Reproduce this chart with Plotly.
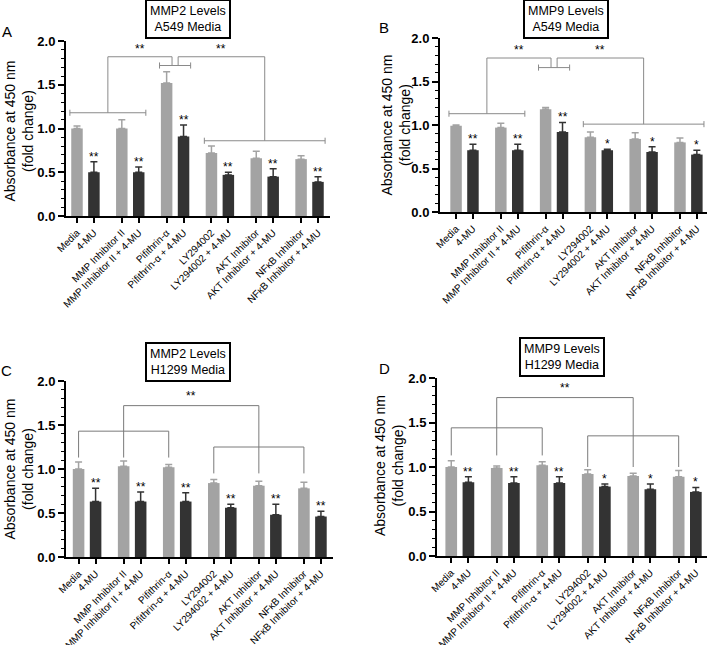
import plotly.graph_objects as go

W, H = 709, 645

categories = ["Media", "4-MU", "MMP Inhibitor II", "MMP Inhibitor II + 4-MU",
              "Pifithrin-α", "Pifithrin-α + 4-MU", "LY294002", "LY294002 + 4-MU",
              "AKT Inhibitor", "AKT Inhibitor + 4-MU", "NFκB Inhibitor", "NFκB Inhibitor + 4-MU"]

# Panel A: MMP2, A549
a_light = [1.00, 1.00, 1.52, 0.72, 0.66, 0.65]
a_light_err = [0.03, 0.10, 0.13, 0.08, 0.08, 0.04]
a_dark = [0.50, 0.50, 0.91, 0.47, 0.45, 0.39]
a_dark_err = [0.12, 0.06, 0.13, 0.03, 0.09, 0.06]
a_sig = ["**", "**", "**", "**", "**", "**"]

# Panel B: MMP9, A549
b_light = [0.99, 0.97, 1.18, 0.86, 0.84, 0.80]
b_light_err = [0.01, 0.05, 0.02, 0.06, 0.07, 0.05]
b_dark = [0.71, 0.71, 0.92, 0.71, 0.69, 0.66]
b_dark_err = [0.07, 0.07, 0.11, 0.01, 0.06, 0.05]
b_sig = ["**", "**", "**", "*", "*", "*"]

# Panel C: MMP2, H1299
c_light = [1.00, 1.03, 1.02, 0.84, 0.81, 0.78]
c_light_err = [0.08, 0.06, 0.03, 0.04, 0.05, 0.07]
c_dark = [0.63, 0.63, 0.63, 0.56, 0.48, 0.46]
c_dark_err = [0.15, 0.11, 0.10, 0.04, 0.12, 0.06]
c_sig = ["**", "**", "**", "**", "**", "**"]

# Panel D: MMP9, H1299
d_light = [1.00, 0.99, 1.02, 0.92, 0.90, 0.89]
d_light_err = [0.07, 0.02, 0.04, 0.05, 0.03, 0.07]
d_dark = [0.83, 0.82, 0.82, 0.78, 0.75, 0.72]
d_dark_err = [0.06, 0.07, 0.07, 0.03, 0.06, 0.05]
d_sig = ["**", "**", "**", "*", "*", "*"]

y_ticks = [0.0, 0.5, 1.0, 1.5, 2.0]
y_ticktext = ["<b>0.0</b>", "<b>0.5</b>", "<b>1.0</b>", "<b>1.5</b>", "<b>2.0</b>"]

LIGHT = "#a3a3a3"
DARK = "#333333"
LINE = "#8a8a8a"
FONT = "Arial, Liberation Sans, sans-serif"

GAP = 2.65
pos = [g * GAP + k for g in range(6) for k in (0, 1)]
pos_light = pos[0::2]
pos_dark = pos[1::2]


def px_x(p):
    return p / W


def px_y(p):
    return 1 - p / H


panels = [
    dict(letter="A", title="MMP2 Levels<br>A549 Media", light=a_light, le=a_light_err, dark=a_dark, de=a_dark_err,
         sig=a_sig, xd=(66, 330), yd=(41, 216), xr=(-0.65, 14.96), title_c=(188, 19.5), ylab=(18.5, 131),
         let_c=(7, 31), style="cap", br=dict(left=1.18, center=1.72, right=0.86, top=1.82), color=LINE),
    dict(letter="B", title="MMP9 Levels<br>A549 Media", light=b_light, le=b_light_err, dark=b_dark, de=b_dark_err,
         sig=b_sig, xd=(440, 707), yd=(38, 212), xr=(-0.95, 14.85), title_c=(566, 18.5), ylab=(395.5, 125),
         let_c=(384, 28), style="cap", br=dict(left=1.13, center=1.66, right=1.01, top=1.77), color=LINE),
    dict(letter="C", title="MMP2 Levels<br>H1299 Media", light=c_light, le=c_light_err, dark=c_dark, de=c_dark_err,
         sig=c_sig, xd=(66, 333), yd=(381, 557), xr=(-0.74, 14.96), title_c=(188, 362), ylab=(18.5, 469),
         let_c=(6, 370), style="comb", br=dict(left=1.43, lbot=1.13, right=1.25, rbot=0.95, top=1.72), color="#7a7a7a"),
    dict(letter="D", title="MMP9 Levels<br>H1299 Media", light=d_light, le=d_light_err, dark=d_dark, de=d_dark_err,
         sig=d_sig, xd=(437, 707), yd=(378, 556), xr=(-0.83, 14.9), title_c=(562, 357), ylab=(389, 466),
         let_c=(384, 368), style="comb", br=dict(left=1.44, lbot=1.13, right=1.35, rbot=1.0, top=1.78), color="#7a7a7a"),
]

fig = go.Figure()
shapes = []
annotations = []

for i, p in enumerate(panels):
    n = "" if i == 0 else str(i + 1)
    xa, ya = "x" + n, "y" + n
    fig.add_trace(go.Bar(x=pos_light, y=p["light"], width=0.68, marker_color=LIGHT, marker_line_width=0,
                         error_y=dict(type="data", symmetric=False, array=p["le"], arrayminus=[0] * 6,
                                      color=LIGHT, thickness=1.5, width=3.5),
                         xaxis=xa, yaxis=ya, showlegend=False))
    fig.add_trace(go.Bar(x=pos_dark, y=p["dark"], width=0.68, marker_color=DARK, marker_line_width=0,
                         error_y=dict(type="data", symmetric=False, array=p["de"], arrayminus=[0] * 6,
                                      color=DARK, thickness=1.5, width=3.5),
                         xaxis=xa, yaxis=ya, showlegend=False))

    fig.layout["xaxis" + n] = dict(
        domain=[px_x(p["xd"][0]), px_x(p["xd"][1])], range=list(p["xr"]), anchor=ya,
        tickvals=pos, ticktext=categories, tickangle=-45, ticks="outside", ticklen=5, tickwidth=1.5,
        tickcolor="black", showline=True, linecolor="black", linewidth=2, showgrid=False, zeroline=False,
        tickfont=dict(family=FONT, size=10, color="black"), automargin=False, fixedrange=True)
    fig.layout["yaxis" + n] = dict(
        domain=[px_y(p["yd"][1]), px_y(p["yd"][0])], range=[0, 2.0], anchor=xa,
        tickvals=y_ticks, ticktext=y_ticktext, ticks="outside", ticklen=6, tickwidth=1.5, tickcolor="black",
        minor=dict(dtick=0.1, ticks="outside", ticklen=3, tickwidth=1, tickcolor="black", showgrid=False),
        showline=True, linecolor="black", linewidth=2, showgrid=False, zeroline=False,
        tickfont=dict(family=FONT, size=13, color="black"), automargin=False, fixedrange=True)

    for xv, m, e, s in zip(pos_dark, p["dark"], p["de"], p["sig"]):
        annotations.append(dict(x=xv, y=m + e, xref=xa, yref=ya, text=s, showarrow=False, yanchor="bottom",
                                yshift=-4, font=dict(family=FONT, size=12, color="black")))

    col = p["color"]
    br = p["br"]

    def line(x0, y0, x1, y1):
        shapes.append(dict(type="line", xref=xa, yref=ya, x0=x0, y0=y0, x1=x1, y1=y1,
                           line=dict(color=col, width=1)))

    if p["style"] == "cap":
        cap = 0.035
        ext = 0.42
        lx0, lx1 = pos[0] - ext, pos[3] + ext
        cx0, cx1 = pos[4] - ext, pos[5] + ext
        rx0, rx1 = pos[6] - ext, pos[11] + ext
        for (x0, x1, yv) in [(lx0, lx1, br["left"]), (cx0, cx1, br["center"]), (rx0, rx1, br["right"])]:
            line(x0, yv, x1, yv)
            line(x0, yv - cap, x0, yv + cap)
            line(x1, yv - cap, x1, yv + cap)
        lm = (lx0 + lx1) / 2
        cm = (cx0 + cx1) / 2
        rm = (rx0 + rx1) / 2
        d = 0.18
        line(lm, br["left"], lm, br["top"])
        line(lm, br["top"], cm - d, br["top"])
        line(cm - d, br["top"], cm - d, br["center"])
        line(rm, br["right"], rm, br["top"])
        line(cm + d, br["top"], rm, br["top"])
        line(cm + d, br["top"], cm + d, br["center"])
        for xm in [(lm + cm - d) / 2, (cm + d + rm) / 2]:
            annotations.append(dict(x=xm, y=br["top"], xref=xa, yref=ya, text="**", showarrow=False,
                                    yanchor="bottom", yshift=-1, font=dict(family=FONT, size=12, color="black")))
    else:
        l0, l1, l2 = pos[0], pos[2], pos[4]
        r0, r1, r2 = pos[6], pos[8], pos[10]
        line(l0, br["left"], l2, br["left"])
        line(l0, br["left"], l0, br["lbot"])
        line(l2, br["left"], l2, br["lbot"])
        line(l1, br["top"], l1, br["lbot"])
        line(r0, br["right"], r2, br["right"])
        line(r0, br["right"], r0, br["rbot"])
        line(r2, br["right"], r2, br["rbot"])
        line(r1, br["top"], r1, br["rbot"])
        line(l1, br["top"], r1, br["top"])
        annotations.append(dict(x=(l1 + r1) / 2, y=br["top"], xref=xa, yref=ya, text="**", showarrow=False,
                                yanchor="bottom", yshift=1, font=dict(family=FONT, size=12, color="black")))

    annotations.append(dict(x=px_x(p["title_c"][0]), y=px_y(p["title_c"][1]), xref="paper", yref="paper",
                            text=p["title"], showarrow=False, xanchor="center", yanchor="middle",
                            bordercolor="black", borderwidth=2, borderpad=3, bgcolor="white",
                            font=dict(family=FONT, size=12.5, color="black")))
    annotations.append(dict(x=px_x(p["ylab"][0]), y=px_y(p["ylab"][1]), xref="paper", yref="paper",
                            text="Absorbance at 450 nm<br>(fold change)", textangle=-90, showarrow=False,
                            xanchor="center", yanchor="middle",
                            font=dict(family=FONT, size=14, color="black")))
    annotations.append(dict(x=px_x(p["let_c"][0]), y=px_y(p["let_c"][1]), xref="paper", yref="paper",
                            text=p["letter"], showarrow=False, xanchor="center", yanchor="middle",
                            font=dict(family=FONT, size=15, color="black")))

fig.update_layout(
    width=W, height=H, template="none", barmode="overlay",
    margin=dict(l=0, r=0, t=0, b=0, autoexpand=False),
    paper_bgcolor="white", plot_bgcolor="white",
    shapes=shapes, annotations=annotations, showlegend=False,
    font=dict(family=FONT, color="black"),
)

fig.write_html("out.html", config={"displayModeBar": False},
               post_script="document.body.style.margin='0px';document.body.style.overflow='hidden';")
